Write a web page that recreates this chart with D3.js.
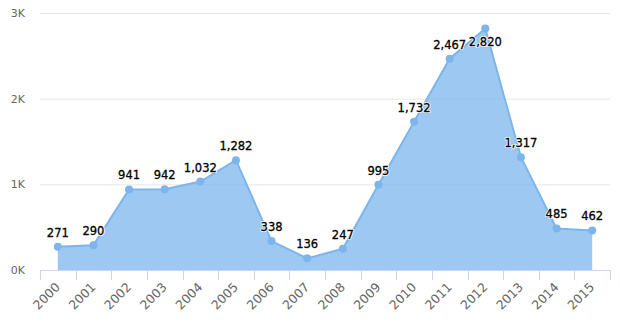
<!DOCTYPE html>
<html><head><meta charset="utf-8">
<script src="https://cdn.jsdelivr.net/npm/d3@7"></script>
<style>body{margin:0;background:#fff;} svg{display:block;}</style>
</head><body>
<svg id="c" width="620" height="330"></svg>
<script>
const years = ["2000","2001","2002","2003","2004","2005","2006","2007","2008","2009","2010","2011","2012","2013","2014","2015"];
const values = [271,290,941,942,1032,1282,338,136,247,995,1732,2467,2820,1317,485,462];
const yTicks = [0,1000,2000,3000];
const yTickLabels = ["0K","1K","2K","3K"];

const svg = d3.select("#c");
const x = d3.scaleBand().domain(years).range([40,610]);
const y = d3.scaleLinear().domain([0,3000]).range([270,13]);
const cx = d => x(d) + x.bandwidth()/2;
const font = "'DejaVu Sans', sans-serif";

// gridlines
svg.append("g").selectAll("line").data(yTicks.slice(1)).join("line")
  .attr("x1",40).attr("x2",610).attr("y1",d=>y(d)+0.5).attr("y2",d=>y(d)+0.5)
  .attr("stroke","#e6e6e6").attr("stroke-width",1);
svg.append("g").selectAll("text").data(yTicks).join("text")
  .attr("x",25).attr("y",d=>y(d)+4).attr("text-anchor","end")
  .attr("font-family",font).attr("font-size",11).attr("fill","#666")
  .text((d,i)=>yTickLabels[i]);

// area
const pts = years.map((yr,i)=>({yr, v: values[i]}));
svg.append("path").datum(pts)
  .attr("d", d3.area().x(d=>cx(d.yr)).y0(y(0)).y1(d=>y(d.v)))
  .attr("fill","#7cb5ec").attr("fill-opacity",0.75);
svg.append("path").datum(pts)
  .attr("d", d3.line().x(d=>cx(d.yr)).y(d=>y(d.v)))
  .attr("fill","none").attr("stroke","#7cb5ec").attr("stroke-width",2);

// x axis
const xa = svg.append("g");
xa.append("line").attr("x1",40).attr("x2",610).attr("y1",270.5).attr("y2",270.5).attr("stroke","#ccd6eb");
const tickPos = years.map(d=>x(d)).concat([610]);
xa.selectAll("line.t").data(tickPos).join("line").attr("class","t")
  .attr("x1",d=>Math.round(d)+0.5).attr("x2",d=>Math.round(d)+0.5).attr("y1",270).attr("y2",280)
  .attr("stroke","#ccd6eb");
xa.selectAll("text").data(years).join("text")
  .attr("transform",d=>`translate(${cx(d)+3},${288}) rotate(-45)`)
  .attr("text-anchor","end").attr("font-family",font).attr("font-size",12.5).attr("fill","#666")
  .text(d=>d);

// markers
svg.append("g").selectAll("circle").data(pts).join("circle")
  .attr("cx",d=>cx(d.yr)).attr("cy",d=>y(d.v)).attr("r",4).attr("fill","#7cb5ec");

// data labels (flip below the point if it would leave the plot top)
const fmt = d3.format(",");
const ly = d => (y(d.v) - 19 < 13) ? y(d.v) + 18 : y(d.v) - 10;
const lbl = svg.append("g").selectAll("g").data(pts).join("g");
lbl.append("text").attr("x",d=>cx(d.yr)).attr("y",ly)
  .attr("text-anchor","middle").attr("font-family",font).attr("font-size",11.5)
  .attr("stroke","#fff").attr("stroke-width",2).attr("stroke-linejoin","round").attr("fill","#fff")
  .text(d=>fmt(d.v));
lbl.append("text").attr("x",d=>cx(d.yr)).attr("y",ly)
  .attr("text-anchor","middle").attr("font-family",font).attr("font-size",11.5)
  .attr("fill","#000").attr("stroke","#000").attr("stroke-width",0.3).text(d=>fmt(d.v));
</script>
</body></html>
